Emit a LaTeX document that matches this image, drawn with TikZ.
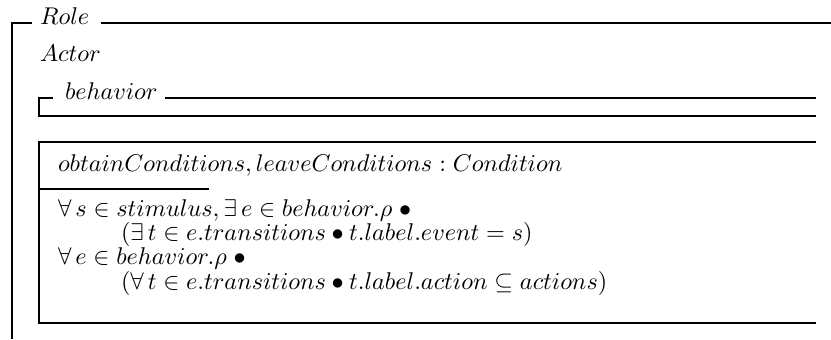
\documentclass[tikz,border=0pt]{standalone}
\begin{document}
\begin{tikzpicture}[x=0.4132pt,y=-0.4132pt,
  rule/.style={line width=0.8pt},
  lbl/.style={anchor=base west, inner sep=0pt, outer sep=0pt}]
\useasboundingbox (0,0) rectangle (831,339);

% outer schema Role
\coordinate (roleTL) at (11.7,23.3);
\coordinate (roleBL) at (11.7,339);
\coordinate (roleTR) at (831,23.3);
\node[lbl] (role) at (40,24.5) {$Role$};
\draw[rule] (roleBL) -- (roleTL) -- ([xshift=-3.3]role.west |- roleTL);
\draw[rule] ([xshift=5]role.east |- roleTR) -- (roleTR);

\node[lbl] (actor) at (40,61.7) {$Actor$};

% nested schema behavior
\coordinate (behTL) at (39.3,98.3);
\coordinate (behBL) at (39.3,115.7);
\coordinate (behTR) at (816,98.3);
\coordinate (behBR) at (816,115.7);
\node[lbl] (beh) at (65,99) {$behavior$};
\draw[rule] ([xshift=-5]beh.west |- behTL) -- (behTL) -- (behBL) -- (behBR);
\draw[rule] ([xshift=3]beh.east |- behTR) -- (behTR);

% anonymous schema with declaration and predicate parts
\coordinate (boxTL) at (39.3,141.7);
\coordinate (boxTR) at (816,141.7);
\coordinate (boxBL) at (39.3,323.3);
\coordinate (boxBR) at (816,323.3);
\coordinate (sepL) at (39.3,189.3);
\coordinate (sepR) at (209,189.3);
\draw[rule] (boxTR) -- (boxTL) -- (boxBL) -- (boxBR);
\draw[rule] (sepL) -- (sepR);

\node[lbl] (decl) at (58,171.5) {$obtainConditions, leaveConditions : Condition$};
\node[lbl] (p1) at (58,216) {$\forall\, s \in stimulus, \exists\, e \in behavior.\rho\;\bullet$};
\node[lbl] (p2) at (121,240) {$(\exists\, t \in e.transitions \bullet t.label.event = s)$};
\node[lbl] (p3) at (58,264) {$\forall\, e \in behavior.\rho\;\bullet$};
\node[lbl] (p4) at (121,289) {$(\forall\, t \in e.transitions \bullet t.label.action \subseteq actions)$};
\end{tikzpicture}
\end{document}
